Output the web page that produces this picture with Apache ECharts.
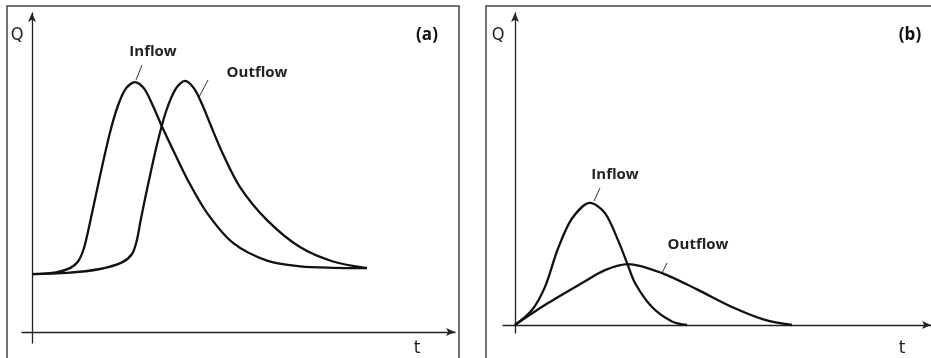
<!DOCTYPE html>
<html><head><meta charset="utf-8">
<script src="https://cdn.jsdelivr.net/npm/echarts@6/dist/echarts.min.js"></script>
<style>html,body{margin:0;padding:0;background:#fff}#c{width:931px;height:358px}</style>
</head><body><div id="c"></div>
<script>
// Panel (a): [t, Q] in arbitrary units
const inflowA = [[0,19.3],[6,19.9],[9.5,21.3],[11.5,23.5],[13,28],[14.5,36.5],[17,52],[19.5,66.5],[21.5,75.5],[23.5,81.2],[25.75,83.3],[28,81.2],[30.2,75.5],[32.5,68.5],[35.5,60],[39,50.5],[43.75,39.7],[50.25,29.7],[58.75,23.8],[67,21.9],[75.25,21.4],[83.75,21.3]];
const outflowA = [[0,19.3],[8.75,19.7],[17,21],[22.5,23.2],[25,26],[26.2,30.5],[27.2,37.5],[28.75,47.5],[31.25,62.5],[33.5,73.5],[36,81.2],[38.25,83.7],[40.5,81.2],[42.5,76],[44.5,69.5],[47.5,60],[52,48.3],[58.75,37.3],[67,28.3],[75.25,23.5],[83.75,21.3]];
// Panel (b)
const inflowB = [[0,0],[4.25,5],[7.5,12.7],[10.75,25.5],[14.25,35.5],[18.75,40.7],[22.5,37.3],[25.75,28.3],[28,20.7],[30,14],[34.25,6],[39.25,1.2],[43,0]];
const outflowB = [[0,0],[8.25,7.3],[16.75,14],[22.5,18.3],[28.25,20.3],[36.75,17.3],[45.75,11.7],[54.25,6],[62.5,1.7],[69.25,0]];
const seriesNames = ['Inflow','Outflow'];
const panelTags = ['(a)','(b)'];
const axisNames = ['Q','t'];

const chart = echarts.init(document.getElementById('c'));
const ax = {show:true,lineStyle:{color:'#222',width:1.3},symbol:['none','arrow'],symbolSize:[6,9],onZero:true};
function xA(i,min,max){return {type:'value',gridIndex:i,min:min,max:max,axisLine:ax,axisTick:{show:false},axisLabel:{show:false},splitLine:{show:false}};}
function yA(i,min,max){return {type:'value',gridIndex:i,min:min,max:max,axisLine:ax,axisTick:{show:false},axisLabel:{show:false},splitLine:{show:false}};}
function ln(name,data,i){return {name:name,type:'line',xAxisIndex:i,yAxisIndex:i,data:data,showSymbol:false,smooth:0.3,lineStyle:{color:'#111',width:2.3},silent:true};}
const lbl = {fontFamily:'Open Sans',fontWeight:'bold',fontSize:15,fill:'#222'};
const qs = {fontFamily:'DejaVu Sans Condensed, DejaVu Sans',fontSize:18,fill:'#222',align:'center',verticalAlign:'middle'};
const ts = {fontFamily:'DejaVu Sans',fontSize:17,fill:'#222',align:'center',verticalAlign:'middle'};
const tg = {fontFamily:'Open Sans',fontWeight:'bold',fontSize:17,fill:'#111',align:'center',verticalAlign:'middle'};
chart.setOption({
  animation:false,
  grid:[{left:22,top:13,width:433,height:330},{left:503,top:13,width:428,height:320}],
  xAxis:[xA(0,-2.5,105.75),xA(1,-3,104)],
  yAxis:[yA(0,-3.667,106.333),yA(1,-2.667,104)],
  series:[ln(seriesNames[0],inflowA,0),ln(seriesNames[1],outflowA,0),ln(seriesNames[0],inflowB,1),ln(seriesNames[1],outflowB,1)],
  graphic:[
    {type:'rect',shape:{x:7,y:6,width:452,height:360},style:{fill:'none',stroke:'#444',lineWidth:1.5},silent:true},
    {type:'rect',shape:{x:486,y:6,width:450,height:360},style:{fill:'none',stroke:'#444',lineWidth:1.5},silent:true},
    {type:'text',x:17,y:35,style:Object.assign({text:axisNames[0]},qs)},
    {type:'text',x:498,y:35,style:Object.assign({text:axisNames[0]},qs)},
    {type:'text',x:417,y:349,style:Object.assign({text:axisNames[1]},ts)},
    {type:'text',x:902,y:349,style:Object.assign({text:axisNames[1]},ts)},
    {type:'text',x:427,y:35,style:Object.assign({text:panelTags[0]},tg)},
    {type:'text',x:910,y:35,style:Object.assign({text:panelTags[1]},tg)},
    {type:'text',x:153,y:52,style:Object.assign({text:seriesNames[0],align:'center',verticalAlign:'middle'},lbl)},
    {type:'text',x:257,y:73,style:Object.assign({text:seriesNames[1],align:'center',verticalAlign:'middle'},lbl)},
    {type:'text',x:615,y:175,style:Object.assign({text:seriesNames[0],align:'center',verticalAlign:'middle'},lbl)},
    {type:'text',x:698,y:245,style:Object.assign({text:seriesNames[1],align:'center',verticalAlign:'middle'},lbl)},
    {type:'line',shape:{x1:142,y1:65,x2:136,y2:80},style:{stroke:'#333',lineWidth:1}},
    {type:'line',shape:{x1:208,y1:80,x2:199,y2:97},style:{stroke:'#333',lineWidth:1}},
    {type:'line',shape:{x1:600,y1:188,x2:594,y2:201},style:{stroke:'#333',lineWidth:1}},
    {type:'line',shape:{x1:667,y1:263,x2:662,y2:273},style:{stroke:'#333',lineWidth:1}}
  ]
});
</script></body></html>
